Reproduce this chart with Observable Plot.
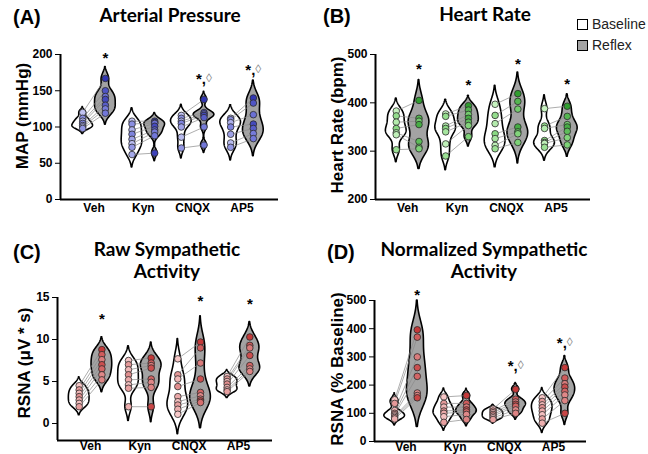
<!DOCTYPE html>
<html><head><meta charset="utf-8">
<script src="https://cdn.jsdelivr.net/npm/d3@7"></script>
<script src="https://cdn.jsdelivr.net/npm/@observablehq/plot@0.6"></script>
<style>
body{margin:0;background:#fff;}
#wrap{position:relative;width:648px;height:454px;overflow:hidden;background:#fff;font-family:"Liberation Sans",Arial,sans-serif;color:#000;}
.panel{position:absolute;}
.tag{position:absolute;font-weight:bold;font-size:20px;line-height:1;white-space:nowrap;}
.ttl{position:absolute;font-family:Lato,"Open Sans",sans-serif;font-weight:bold;font-size:19px;line-height:22px;text-align:center;transform:translateX(-50%);white-space:nowrap;}
.ylab{position:absolute;font-weight:bold;font-size:17px;line-height:1;white-space:nowrap;transform:translate(-50%,-50%) rotate(-90deg);}
.leg{position:absolute;font-size:14px;line-height:1;white-space:nowrap;color:#222;}
.box{position:absolute;width:9px;height:9px;border:1px solid #000;}
</style></head><body><div id="wrap"></div>
<script>
const categories = ["Veh", "Kyn", "CNQX", "AP5"];

// (A) Arterial Pressure, MAP (mmHg): one array per group
const mapBaseline = [[120,112,108,105,102,100,98],[108,104,96,90,83,77,72,62],[116,112,108,105,100,86,71],[112,110,106,100,90,78,72]];
const mapReflex   = [[167,150,142,138,130,125,119],[108,106,105,101,96,93,88,64],[138,120,118,116,113,100,75],[140,133,117,104,98,91,84]];
const mapTicks = [0,50,100,150,200];
const mapMarks = ["*", "", "*,◊", "*,◊"];
const mapMarkY = [201, null, 172, 184];

// (B) Heart Rate (bpm)
const hrBaseline = [[383,373,360,347,338,334,303],[377,372,352,347,340,315,290],[397,374,357,336,326,312,305],[388,352,347,322,318,316,308]];
const hrReflex   = [[405,368,362,355,320,308,305],[394,385,376,368,360,353,330],[419,403,387,350,340,336,318],[393,372,355,350,341,328,313]];
const hrTicks = [200,300,400,500];
const hrMarks = ["*", "*", "*", "*"];
const hrMarkY = [477, 445, 489, 446];

// (C) Raw sympathetic activity, RSNA (µV*s)
const rawBaseline = [[4.5,4.0,3.6,3.2,2.8,2.4,2.0],[7.5,7.0,6.4,5.8,5.2,4.6,4.2,2.0],[7.7,5.8,5.3,4.4,3.2,2.6,2.2,1.7,1.1],[5.6,5.3,5.0,4.7,4.3,4.0,3.8]];
const rawReflex   = [[8.8,8.2,7.6,7.0,6.5,5.8,5.2],[7.8,7.2,6.9,6.6,5.3,4.9,4.3,2.0],[9.7,9.0,7.2,5.3,3.7,3.3,2.9,2.7,2.5],[10.3,9.3,9.0,8.1,6.9,6.5,6.2]];
const rawTicks = [0,5,10,15];
const rawMarks = ["*", "", "*", "*"];
const rawMarkY = [12.9, null, 15.0, 14.7];

// (D) Normalized sympathetic activity, RSNA (% Baseline)
const normBaseline = [[148,135,110,100,95,90,85,80],[158,135,122,108,100,88,68],[115,108,102,96,90,84,78],[155,142,130,120,108,95,80,65]];
const normReflex   = [[396,370,300,262,231,172,163,155],[163,135,122,112,105,96,78],[185,150,140,132,125,112,100],[262,225,205,193,178,165,145,100]];
const normTicks = [0,100,200,300,400,500];
const normMarks = ["*", "", "*,◊", "*,◊"];
const normMarkY = [533, null, 281, 364];

const wrap = document.getElementById("wrap");

function kde(values) {
  const v = values.slice().sort(d3.ascending);
  const n = v.length;
  const sd = d3.deviation(v);
  const iqr = d3.quantile(v, 0.75) - d3.quantile(v, 0.25);
  const s = Math.min(sd, iqr / 1.34) || sd;
  const bw = 0.85 * 0.9 * s * Math.pow(n, -0.2);
  const lo = v[0] - 2.2 * bw, hi = v[n - 1] + 2.2 * bw;
  const N = 120, out = [];
  for (let i = 0; i <= N; i++) {
    const y = lo + (hi - lo) * i / N;
    let d = 0;
    for (const x of v) d += Math.exp(-0.5 * ((y - x) / bw) ** 2);
    out.push({y, d});
  }
  const m = d3.max(out, p => p.d);
  out.forEach(p => p.d /= m);
  return out;
}

function panel(cfg) {
  const off = 0.23, hw = 0.21;
  const pat = [0.1, 0.8, 0.35, 0.95, 0.55, 0.2, 0.7, 0.45, 0.05];
  const violins = [], dots = [], links = [], anns = [];
  categories.forEach((c, g) => {
    [["Baseline", cfg.base[g], -off], ["Reflex", cfg.refl[g], off]].forEach(([cond, vals, o]) => {
      kde(vals).forEach(p => violins.push({key: c + cond, cond, y: p.y, x1: g + o - hw * p.d, x2: g + o + hw * p.d}));
    });
    cfg.base[g].forEach((v, i) => {
      const r = cfg.refl[g][i];
      links.push({x1: g - off, x2: g + off, y1: v, y2: r});
      dots.push({x: g - off, y: v, fill: d3.interpolateRgb(cfg.light, cfg.mid)(pat[i % 9])});
      dots.push({x: g + off, y: r, fill: d3.interpolateRgb(cfg.mid, cfg.dark)(pat[(i + 3) % 9])});
    });
    if (cfg.marks[g]) anns.push({x: g + off, y: cfg.markY[g], star: cfg.marks[g].includes("◊") ? "*," : "*", dia: cfg.marks[g].includes("◊")});
  });
  const chart = Plot.plot({
    width: cfg.width, height: cfg.height,
    marginLeft: cfg.mL, marginRight: cfg.mR, marginTop: cfg.mT, marginBottom: cfg.mB,
    style: {background: "transparent", fontFamily: "Liberation Sans, Arial, sans-serif", fontSize: "12px", fontWeight: "bold", color: "#000", overflow: "visible"},
    color: {type: "identity"},
    x: {domain: cfg.xDomain, ticks: [0, 1, 2, 3], tickFormat: i => categories[i], tickSize: 0, tickPadding: cfg.xPad, label: null},
    y: {domain: cfg.yDomain, ticks: cfg.ticks, tickSize: 5, tickPadding: 3, label: null},
    marks: [
      Plot.areaX(violins.filter(d => d.cond === "Baseline"), {y: "y", x1: "x1", x2: "x2", z: "key", fill: "#fff", stroke: "#000", strokeWidth: 1.6}),
      Plot.areaX(violins.filter(d => d.cond === "Reflex"), {y: "y", x1: "x1", x2: "x2", z: "key", fill: "#a3a3a3", stroke: "#000", strokeWidth: 1.6}),
      Plot.link(links, {x1: "x1", y1: "y1", x2: "x2", y2: "y2", stroke: "#8a8a8a", strokeWidth: 0.7}),
      Plot.dot(dots, {x: "x", y: "y", r: 3.3, fill: "fill", stroke: "#2a2a2a", strokeWidth: 0.8}),
      Plot.ruleY([cfg.yDomain[0]], {stroke: "#000", strokeWidth: 2}),
      Plot.ruleX([cfg.xDomain[0]], {stroke: "#000", strokeWidth: 2}),
      Plot.text(anns.filter(d => !d.dia), {x: "x", y: "y", text: "star", fontSize: 15, dy: 4, fill: "#000"}),
      Plot.text(anns.filter(d => d.dia), {x: "x", y: "y", text: "star", fontSize: 15, dy: 4, dx: 2, textAnchor: "end", fill: "#000"}),
      Plot.text(anns.filter(d => d.dia), {x: "x", y: "y", text: () => "◊", fontSize: 12, fontWeight: "normal", dy: 3, dx: 2, textAnchor: "start", fill: "#8a8a8a"})
    ]
  });
  const div = document.createElement("div");
  div.className = "panel";
  div.style.left = cfg.left + "px";
  div.style.top = cfg.top + "px";
  div.appendChild(chart);
  wrap.appendChild(div);
}

const A = {light: "#c9cbf3", mid: "#7a7fdc", dark: "#2e33b0"};
const G = {light: "#cdf5c6", mid: "#86d77f", dark: "#2c9b2c"};
const R = {light: "#f8cccc", mid: "#e08c8c", dark: "#c23535"};

panel({...A, base: mapBaseline, refl: mapReflex, ticks: mapTicks, marks: mapMarks, markY: mapMarkY, xPad: 4,
  left: 0, top: 30, width: 320, height: 195, mL: 60, mR: 42, mT: 24, mB: 26, yDomain: [0, 200], xDomain: [-0.68, 3.74]});
panel({...G, base: hrBaseline, refl: hrReflex, ticks: hrTicks, marks: hrMarks, markY: hrMarkY, xPad: 4,
  left: 320, top: 30, width: 328, height: 195, mL: 55, mR: 58, mT: 24, mB: 26, yDomain: [200, 500], xDomain: [-0.65, 3.70]});
panel({...R, base: rawBaseline, refl: rawReflex, ticks: rawTicks, marks: rawMarks, markY: rawMarkY, xPad: 1,
  left: 0, top: 285, width: 320, height: 169, mL: 57, mR: 48, mT: 12, mB: 14, yDomain: [-2.02, 15], xDomain: [-0.67, 3.69]});
panel({...R, base: normBaseline, refl: normReflex, ticks: normTicks, marks: normMarks, markY: normMarkY, xPad: 1,
  left: 320, top: 285, width: 328, height: 169, mL: 54, mR: 62, mT: 15, mB: 13, yDomain: [0, 500], xDomain: [-0.64, 3.67]});

function addDiv(cls, text, style) {
  const d = document.createElement("div");
  d.className = cls;
  d.innerHTML = text;
  Object.assign(d.style, style);
  wrap.appendChild(d);
  return d;
}
addDiv("tag", "(A)", {left: "13px", top: "7px"});
addDiv("tag", "(B)", {left: "323px", top: "6px"});
addDiv("tag", "(C)", {left: "13px", top: "242px"});
addDiv("tag", "(D)", {left: "327px", top: "242px"});
addDiv("ttl", "Arterial Pressure", {left: "170px", top: "4px"});
addDiv("ttl", "Heart Rate", {left: "485px", top: "3px"});
addDiv("ttl", "Raw Sympathetic<br>Activity", {left: "167px", top: "238px"});
addDiv("ttl", "Normalized Sympathetic<br>Activity", {left: "484px", top: "238px"});
addDiv("ylab", "MAP (mmHg)", {left: "22px", top: "116px"});
addDiv("ylab", "Heart Rate (bpm)", {left: "337px", top: "125px"});
addDiv("ylab", "RSNA (μV * s)", {left: "24px", top: "363px"});
addDiv("ylab", "RSNA (% Baseline)", {left: "337px", top: "369px"});
addDiv("box", "", {left: "577px", top: "19px", background: "#fff"});
addDiv("box", "", {left: "577px", top: "40px", background: "#a3a3a3"});
addDiv("leg", "Baseline", {left: "592px", top: "17px"});
addDiv("leg", "Reflex", {left: "592px", top: "38px"});
</script></body></html>
